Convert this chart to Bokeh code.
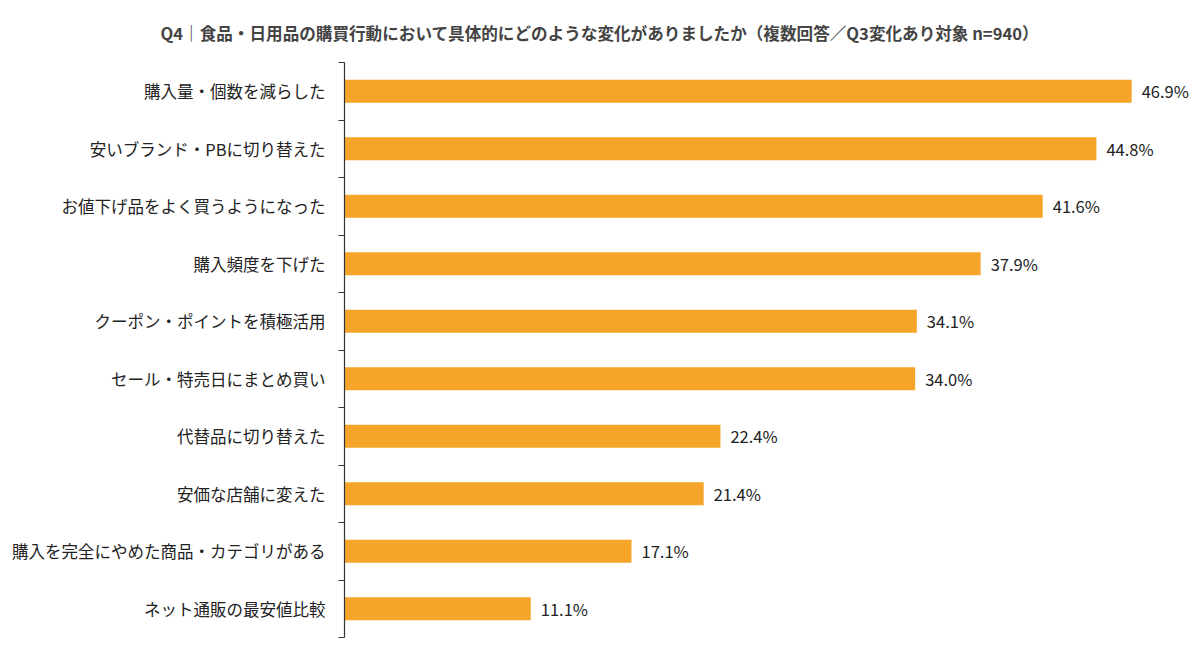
from bokeh.plotting import figure
from bokeh.models import ColumnDataSource, FixedTicker, LabelSet, Range1d
from bokeh.core.properties import value
from bokeh.embed import file_html
from bokeh.resources import INLINE

categories = [
    "購入量・個数を減らした",
    "安いブランド・PBに切り替えた",
    "お値下げ品をよく買うようになった",
    "購入頻度を下げた",
    "クーポン・ポイントを積極活用",
    "セール・特売日にまとめ買い",
    "代替品に切り替えた",
    "安価な店舗に変えた",
    "購入を完全にやめた商品・カテゴリがある",
    "ネット通販の最安値比較",
]
values = [46.9, 44.8, 41.6, 37.9, 34.1, 34.0, 22.4, 21.4, 17.1, 11.1]
title_text = "Q4｜食品・日用品の購買行動において具体的にどのような変化がありましたか（複数回答／Q3変化あり対象 n=940）"

n = len(categories)
ypos = [n - 0.5 - i for i in range(n)]
src = ColumnDataSource(dict(y=ypos, v=values, lab=[f"{v:.1f}%" for v in values]))

FONT = "Noto Sans CJK JP"
BAR = "#F5A62A"

p = figure(width=1200, height=654, output_backend="svg", toolbar_location=None,
           x_range=Range1d(0, 51), y_range=Range1d(0, n),
           min_border_left=344, min_border_right=0, min_border_top=61, min_border_bottom=17)
p.title.text = title_text
p.title.align = "left"
p.title.vertical_align = "bottom"
p.title.text_font = FONT
p.title.text_font_size = "16.6px"
p.title.text_font_style = "bold"
p.title.text_color = "#444444"
p.title.offset = -184
p.title.standoff = 36

p.hbar(y="y", right="v", left=0, height=0.4, source=src, fill_color=BAR, line_color=None)

labels = LabelSet(x="v", y="y", text="lab", source=src, x_offset=10, y_offset=0,
                  text_baseline="middle", text_align="left", text_font=value(FONT),
                  text_font_size="16.5px", text_color="#222222")
p.add_layout(labels)

p.xaxis.visible = False
p.xgrid.visible = False
p.ygrid.visible = False
p.outline_line_color = None

ya = p.yaxis[0]
ya.ticker = FixedTicker(ticks=ypos, minor_ticks=list(range(n + 1)))
ya.major_label_overrides = {y: c for y, c in zip(ypos, categories)}
ya.major_tick_out = 0
ya.major_tick_in = 0
ya.minor_tick_out = 6
ya.minor_tick_in = 0
ya.minor_tick_line_color = "#333333"
ya.axis_line_color = "#333333"
ya.axis_line_width = 1.2
ya.major_label_standoff = 13
ya.major_label_text_font = FONT
ya.major_label_text_font_size = "16.5px"
ya.major_label_text_color = "#222222"

p.background_fill_color = "white"
p.border_fill_color = "white"

open("out.html", "w").write(file_html(p, INLINE))
